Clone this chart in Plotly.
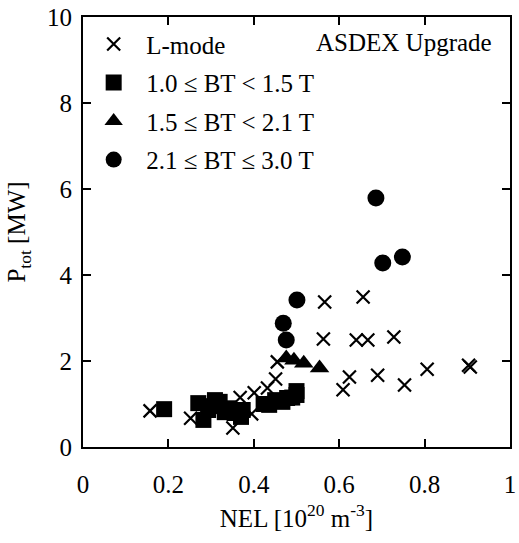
import plotly.graph_objects as go

# L-mode points
lmode_x = [0.157, 0.252, 0.351, 0.368, 0.395, 0.401, 0.432, 0.451, 0.455, 0.566, 0.563,
           0.656, 0.640, 0.667, 0.728, 0.609, 0.624, 0.690, 0.753, 0.806, 0.903, 0.907]
lmode_y = [0.84, 0.67, 0.44, 1.15, 0.77, 1.26, 1.37, 1.58, 1.98, 3.37, 2.51,
           3.49, 2.49, 2.49, 2.56, 1.33, 1.63, 1.67, 1.44, 1.81, 1.90, 1.86]

# 1.0 <= BT < 1.5 T
sq_x = [0.19, 0.27, 0.282, 0.293, 0.30, 0.309, 0.32, 0.332, 0.34, 0.355, 0.37, 0.374,
        0.423, 0.436, 0.45, 0.467, 0.478, 0.49, 0.50, 0.50]
sq_y = [0.88, 1.02, 0.63, 0.86, 0.95, 1.09, 1.05, 0.81, 0.90, 0.79, 0.70, 0.86,
        1.00, 0.98, 1.09, 1.05, 1.14, 1.15, 1.21, 1.30]

# 1.5 <= BT < 2.1 T
tri_x = [0.476, 0.494, 0.517, 0.554]
tri_y = [2.07, 2.02, 1.95, 1.84]

# 2.1 <= BT <= 3.0 T
cir_x = [0.501, 0.469, 0.476, 0.686, 0.702, 0.748]
cir_y = [3.42, 2.88, 2.49, 5.79, 4.28, 4.42]

x_ticks = [0, 0.2, 0.4, 0.6, 0.8, 1.0]
x_tick_labels = ["0", "0.2", "0.4", "0.6", "0.8", "1"]
y_ticks = [0, 2, 4, 6, 8, 10]
y_tick_labels = ["0", "2", "4", "6", "8", "10"]

FONT = "Liberation Serif, Times New Roman, serif"
FS = 25
NB = "\u00a0\u00a0"

fig = go.Figure()
fig.add_trace(go.Scatter(x=lmode_x, y=lmode_y, mode="markers", name=NB + "L-mode",
                         legendgroup="a",
                         marker=dict(symbol="x-thin-open", size=13, color="black",
                                     line=dict(width=2.2, color="black"))))
fig.add_trace(go.Scatter(x=sq_x, y=sq_y, mode="markers", name=NB + "1.0 ≤ BT < 1.5 T",
                         legendgroup="b",
                         marker=dict(symbol="square", size=16, color="black",
                                     line=dict(width=0))))
fig.add_trace(go.Scatter(x=tri_x, y=tri_y, mode="markers", name=NB + "1.5 ≤ BT < 2.1 T",
                         legendgroup="c",
                         marker=dict(symbol="triangle-up", size=17, color="black",
                                     line=dict(width=0))))
fig.add_trace(go.Scatter(x=cir_x, y=cir_y, mode="markers", name=NB + "2.1 ≤ BT ≤ 3.0 T",
                         legendgroup="d",
                         marker=dict(symbol="circle", size=17, color="black",
                                     line=dict(width=0))))

fig.add_annotation(text="ASDEX Upgrade", x=0.752, y=0.94, xref="paper", yref="paper",
                   xanchor="center", yanchor="middle",
                   showarrow=False, font=dict(family=FONT, size=FS, color="black"))

fig.update_layout(
    width=519, height=543,
    margin=dict(l=83, r=3, t=17, b=96),
    paper_bgcolor="white", plot_bgcolor="white",
    font=dict(family=FONT, size=FS, color="black"),
    showlegend=True,
    legend=dict(x=0.025, y=0.99, xanchor="left", yanchor="top",
                bgcolor="rgba(0,0,0,0)", traceorder="grouped", tracegroupgap=3,
                font=dict(family=FONT, size=FS, color="black")),
    xaxis=dict(range=[0, 1], tickvals=x_ticks, ticktext=x_tick_labels,
               ticks="inside", ticklen=8, tickwidth=1.5, tickcolor="black",
               showline=True, linecolor="black", linewidth=2, mirror="ticks",
               showgrid=False, zeroline=False, ticklabelstandoff=14,
               ticklabeloverflow="allow",
               title=dict(text="NEL [10<sup>20</sup> m<sup>-3</sup>]", standoff=12,
                          font=dict(family=FONT, size=FS))),
    yaxis=dict(range=[0, 10], tickvals=y_ticks, ticktext=y_tick_labels,
               ticks="inside", ticklen=8, tickwidth=1.5, tickcolor="black",
               showline=True, linecolor="black", linewidth=2, mirror="ticks",
               showgrid=False, zeroline=False, ticklabelstandoff=4,
               ticklabeloverflow="allow",
               title=dict(text="P<sub>tot</sub> [MW]", standoff=14,
                          font=dict(family=FONT, size=FS))),
)

fig.write_html("out.html")
